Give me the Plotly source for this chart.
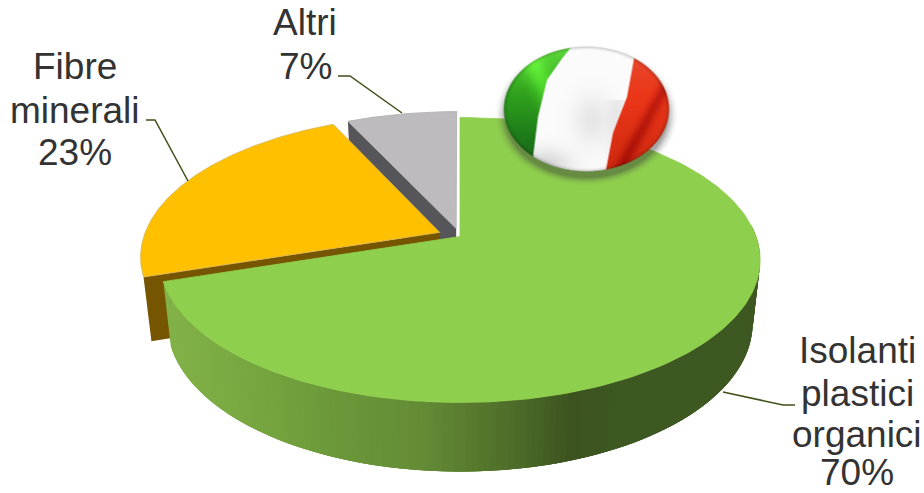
import numpy as np
import plotly.graph_objects as go

# Market share of insulation materials
categories = ["Isolanti plastici organici", "Fibre minerali", "Altri"]
shares = [70, 23, 7]
label_lines = [["Isolanti", "plastici", "organici", "70%"],
               ["Fibre", "minerali", "23%"],
               ["Altri", "7%"]]
top_colors = ["#8FCF4E", "#FFC000", "#BDBBBD"]
wall_colors = ["#5F8A36", "#765500", "#55555A"]
edge_colors = ["#8FCF4E", "#D8B458", "#B0AEB0"]
explode = [0.0, 0.075, 0.06]

# Projection of the pie disc onto the page (page pixels, y pointing down)
CX, CY = 460.0, 236.5
RX, RY, PERSP = 296.0, 138.6, 0.165
DROP, BASE_SX, BASE_SY = 62.5, 0.975, 1.04


def top_xy(u, v):
    w = 1 + PERSP * v
    return CX + RX * u / w, CY - RY * v / w


def base_xy(x, y):
    return CX + BASE_SX * (x - CX), CY + DROP + BASE_SY * (y - CY)


def slice_geometry(start, stop, off):
    mid = np.radians((start + stop) / 2)
    ou, ov = off * np.sin(mid), off * np.cos(mid)
    t = np.radians(np.linspace(start, stop, 200))
    u = np.r_[ou, ou + np.sin(t), ou]
    v = np.r_[ov, ov + np.cos(t), ov]
    return top_xy(u, v)


def rim_color(px):
    # shading across the rim, dependent on horizontal position
    xs = [165, 260, 330, 420, 470, 520, 570, 610, 760]
    r = [130, 118, 108, 100, 88, 76, 60, 62, 62]
    g = [178, 165, 152, 140, 122, 106, 83, 88, 88]
    b = [72, 64, 58, 54, 46, 40, 31, 34, 34]
    return "rgb(%d,%d,%d)" % (np.interp(px, xs, r), np.interp(px, xs, g), np.interp(px, xs, b))


fig = go.Figure()


def polygon(x, y, color, edge=None, width=0.0):
    fig.add_trace(go.Scatter(x=x, y=y, mode="lines", fill="toself", fillcolor=color,
                             line=dict(color=edge or color, width=width),
                             hoverinfo="skip", showlegend=False))


# Cumulative slice angles, clockwise from twelve o'clock
edges = np.cumsum([0] + shares) * 3.6
spans = list(zip(edges[:-1], edges[1:]))

# Back slices first so nearer ones paint over them
for idx in (2, 1):
    x, y = slice_geometry(*spans[idx], explode[idx])
    bx, by = base_xy(x, y)
    # radial wall along the slice's leading edge
    wx = np.r_[x[0], x[1], bx[1], bx[0]]
    wy = np.r_[y[0], y[1], by[1], by[0]]
    polygon(wx, wy, wall_colors[idx])
    polygon(x, y, top_colors[idx], edge=edge_colors[idx], width=0.8)

# Rim of the large slice; overlapping bands hide the joins between shades
band_angles = np.arange(spans[0][1], 84, -1.0)
for a0, a1 in zip(band_angles[:-3], band_angles[3:]):
    t = np.radians(np.linspace(a0, a1, 4))
    x, y = top_xy(np.sin(t), np.cos(t))
    bx, by = base_xy(x, y)
    polygon(np.r_[x, bx[::-1]], np.r_[y, by[::-1]], rim_color(x[0]))

x, y = slice_geometry(*spans[0], explode[0])
polygon(x, y, top_colors[0], edge=edge_colors[0], width=0.8)

# Leader lines from the slices to their labels
leaders = [([795, 783, 723], [405, 405, 392]),
           ([146, 155, 188], [120, 120, 181]),
           ([338, 350, 402], [76, 76, 113])]
for lx, ly in leaders:
    fig.add_trace(go.Scatter(x=lx, y=ly, mode="lines", line=dict(color="#3F4F1A", width=1.5),
                             hoverinfo="skip", showlegend=False))


# Round flag badge rendered as a soft RGBA image
def flag_badge():
    bx0, by0, w, h = 480, 30, 215, 170
    cx, cy, rx, ry = 586.5, 109.0, 83.5, 63.0
    px, py = np.meshgrid(np.arange(bx0, bx0 + w) + 0.5, np.arange(by0, by0 + h) + 0.5)
    r = np.sqrt(((px - cx) / rx) ** 2 + ((py - cy) / ry) ** 2)
    inside = np.clip((1 - r) * 45, 0, 1)

    # wavy stripe borders
    b1 = np.interp(py, [46, 60, 80, 117, 157, 175], [572, 561, 547, 538, 533, 531])
    b2 = np.interp(py, [46, 59, 97, 120, 133, 170, 175], [637, 634, 627, 618, 613, 606, 605])
    s1 = np.clip((px - b1) / 2.0 + 0.5, 0, 1)[..., None]
    s2 = np.clip((px - b2) / 2.0 + 0.5, 0, 1)[..., None]

    gy = np.clip((py - 46) / 126, 0, 1)
    green = np.stack([np.interp(gy, [0, .35, .7, 1], [95, 50, 30, 25]),
                      np.interp(gy, [0, .35, .7, 1], [220, 165, 125, 90]),
                      np.interp(gy, [0, .35, .7, 1], [60, 30, 25, 25])], -1)
    # diagonal highlight on the green stripe
    glow = np.exp(-(((px - py * 0.45) - 505) / 12.0) ** 2)[..., None]
    green = green + glow * np.array([25, 45, 10])

    shade = (0.20 * np.exp(-(((px - 592) / 20.0) ** 2 + ((py - 120) / 26.0) ** 2))
             + 0.35 * np.exp(-(((px - 545) / 26.0) ** 2 + ((py - 165) / 16.0) ** 2))
             + 0.15 * np.exp(-((px - 618) / 10.0) ** 2) * (py > 100))
    white = np.stack([252 - 105 * shade] * 3, -1)

    red = np.stack([np.interp(gy, [0, .4, 1], [232, 236, 205]),
                    np.interp(gy, [0, .4, 1], [75, 55, 40]),
                    np.interp(gy, [0, .4, 1], [50, 25, 15])], -1)
    streak = np.exp(-(((px + py * 0.55) - 713) / 7.0) ** 2)[..., None]
    red = red - streak * np.array([40, 25, 10])

    rgb = green * (1 - s1) + white * s1
    rgb = rgb * (1 - s2) + red * s2
    # darkened rim for the domed look
    rim = np.clip((r - 0.92) / 0.08, 0, 1)[..., None] ** 2
    rgb = rgb * (1 - 0.28 * rim)

    # soft drop shadow under the badge
    rs = np.sqrt(((px - cx) / (rx + 1)) ** 2 + ((py - cy - 6) / (ry + 2)) ** 2)
    shadow = np.clip((1.10 - rs) / 0.14, 0, 1) ** 2 * 0.45
    alpha = inside + (1 - inside) * shadow
    shadow_rgb = np.array([55.0, 55.0, 55.0])
    out = (rgb * inside[..., None] + shadow_rgb * ((1 - inside) * shadow)[..., None]) \
        / np.maximum(alpha[..., None], 1e-3)
    rgba = np.dstack([np.clip(out, 0, 255), alpha * 255]).astype(np.uint8)
    return rgba, bx0, by0


# The badge sits on an overlaid subplot so it paints above the pie
rgba, ix, iy = flag_badge()
fig.add_trace(go.Image(z=rgba, colormodel="rgba", zmin=[0, 0, 0, 0], zmax=[255, 255, 255, 255],
                       x0=ix + 0.5, y0=iy + 0.5, dx=1, dy=1,
                       hoverinfo="skip", xaxis="x2", yaxis="y2"))

# Each line of a label is placed by hand to control the leading
label_pos = [(857, [350, 393, 434, 472]), (75, [66, 110, 152]), (305, [22, 66])]
for lines, (lx, ys) in zip(label_lines, label_pos):
    for text, ly in zip(lines, ys):
        fig.add_annotation(x=lx, y=ly, text=text, showarrow=False, xanchor="center", yanchor="middle",
                           font=dict(family="Liberation Sans", size=37, color="#333333"))

page_x = dict(range=[0, 924], visible=False, fixedrange=True)
page_y = dict(range=[493, 0], visible=False, fixedrange=True)
fig.update_layout(width=924, height=493, margin=dict(l=0, r=0, t=0, b=0), autosize=False,
                  paper_bgcolor="white", plot_bgcolor="white", showlegend=False,
                  xaxis=page_x, yaxis=page_y,
                  xaxis2=dict(page_x, overlaying="x"), yaxis2=dict(page_y, overlaying="y"))
fig.write_html("out.html", config=dict(displayModeBar=False))
